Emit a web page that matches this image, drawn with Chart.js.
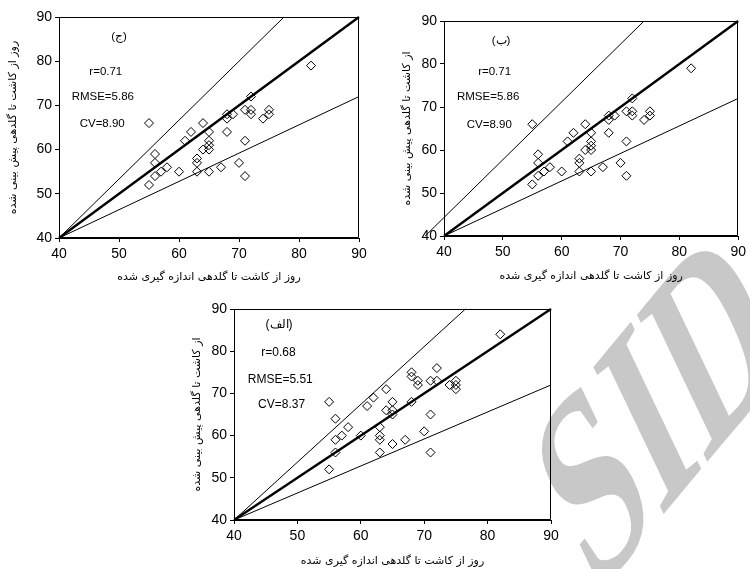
<!DOCTYPE html>
<html><head><meta charset="utf-8">
<script src="https://cdn.jsdelivr.net/npm/chart.js@4.4.0/dist/chart.umd.min.js"></script>
<style>
html,body{margin:0;padding:0;background:#fff;}
body{width:750px;height:569px;position:relative;overflow:hidden;}
canvas{position:absolute;z-index:1;}
#wm{position:absolute;left:656px;top:404px;transform:translate(-50%,-50%) matrix(0.486,-0.585,0.447,0.936,0,0);
  font-family:"Liberation Serif","DejaVu Serif",serif;font-weight:bold;font-size:240px;line-height:1;
  color:#c8c8c8;white-space:nowrap;z-index:0;}
</style></head>
<body>
<div id="wm">SID</div>
<canvas id="cC" width="375" height="295" style="left:0;top:0"></canvas>
<canvas id="cB" width="375" height="295" style="left:375px;top:0"></canvas>
<canvas id="cA" width="400" height="274" style="left:180px;top:295px"></canvas>
<script>
// ---- data (days) ----
// panel (ج)
const obsC  = [55,56,56,55,56,57,58,60,61,62,63,63,63,64,64,65,65,65,65,65,67,68,68,68,69,70,71,71,71,72,72,72,74,75,75,82];
const predC = [66,59,57,52,54,55,56,55,62,64,58,57,55,66,60,64,62,61,60,55,56,68,67,64,68,57,69,62,54,72,69,68,67,68,69,79];
// panel (ب)
const obsB  = [55,56,56,55,56,57,58,60,61,62,63,63,63,64,64,65,65,65,65,65,67,68,68,68,69,70,71,71,71,72,72,72,74,75,75,82];
const predB = [66,59,57,52,54,55,56,55,62,64,58,57,55,66,60,64,62,61,60,55,56,68,67,64,68,57,69,62,54,72,69,68,67,68,69,79];
// panel (الف)
const obsA  = [55,56,56,57,58,56,55,60,61,62,64,63,63,63,63,64,65,65,65,65,67,68,68,68,69,69,70,71,71,71,72,72,74,75,75,75,82];
const predA = [68,64,59,60,62,56,52,60,67,69,71,62,60,59,56,66,68,66,65,58,59,75,74,68,73,72,61,73,65,56,76,73,72,73,72,71,84];

// reference lines [x0,x1] / [y0,y1]
const lineOneX = [40, 90], lineOneY = [40, 90];
const lowX = [40, 90], lowY = [40, 72];
const upCX = [40, 77.5], upCY = [40, 90];
const upBX = [36.8, 74], upBY = [40, 90];
const upAX = [40, 76.5], upAY = [40, 90];

const axisMin = 40, axisMax = 90, axisStep = 10;

// statistics text
const labelsC = ['(ج)', 'r=0.71', 'RMSE=5.86', 'CV=8.90'];
const labelsB = ['(ب)', 'r=0.71', 'RMSE=5.86', 'CV=8.90'];
const labelsA = ['(الف)', 'r=0.68', 'RMSE=5.51', 'CV=8.37'];

const xTitle = 'روز از کاشت تا گلدهی اندازه گیری شده';
const yTitleC = 'روز از کاشت تا گلدهی پیش بینی شده';
const yTitleB = 'از کاشت تا گلدهی پیش بینی شده';
const yTitleA = 'از کاشت تا گلدهی پیش بینی شده';

// ---- plugins ----
const framePlugin = {
  id: 'frame',
  afterDatasetsDraw(chart) {
    const {ctx, chartArea: a} = chart;
    ctx.save();
    ctx.strokeStyle = '#000'; ctx.lineWidth = 1;
    ctx.beginPath();
    const l = Math.round(a.left) + 0.5, r = Math.round(a.right) - 0.5, t = Math.round(a.top) + 0.5, b = Math.round(a.bottom) - 0.5;
    ctx.moveTo(l, b); ctx.lineTo(l, t); ctx.lineTo(r, t); ctx.lineTo(r, b); ctx.lineTo(l, b);
    ctx.stroke();
    ctx.restore();
  }
};
const notesPlugin = {
  id: 'notes',
  afterDraw(chart, args, opts) {
    const {ctx} = chart;
    const xs = chart.scales.x, ys = chart.scales.y;
    ctx.save();
    ctx.fillStyle = '#000';
    ctx.textAlign = 'center'; ctx.textBaseline = 'middle';
    (opts.items || []).forEach(it => {
      ctx.font = (it.size || opts.size) + 'px ' + (it.family || opts.family);
      ctx.fillText(it.text, xs.getPixelForValue(it.x), ys.getPixelForValue(it.y));
    });
    ctx.restore();
  }
};

function pts(xs, ys) { return xs.map((v, i) => ({x: v, y: ys[i]})); }

function makeChart(id, obs, pred, upX, upY, notes, yTitle, L) {
  const tickFont = {family: '"Liberation Sans", Arial, sans-serif', size: L.tick};
  const titleFont = {family: '"DejaVu Sans", sans-serif', size: L.title};
  new Chart(document.getElementById(id), {
    type: 'scatter',
    data: {
      datasets: [
        {data: pts(obs, pred), pointStyle: 'rectRot', pointRadius: 4.5, borderColor: '#000', backgroundColor: 'rgba(255,255,255,0)', borderWidth: 1, showLine: false},
        {data: pts(lineOneX, lineOneY), showLine: true, borderColor: '#000', borderWidth: 2.4, pointRadius: 0, clip: false},
        {data: pts(upX, upY), showLine: true, borderColor: '#000', borderWidth: 1, pointRadius: 0, clip: false},
        {data: pts(lowX, lowY), showLine: true, borderColor: '#000', borderWidth: 1, pointRadius: 0, clip: false}
      ]
    },
    options: {
      responsive: false, animation: false,
      layout: {padding: L.pad},
      plugins: {
        legend: {display: false}, tooltip: {enabled: false},
        notes: {items: notes, size: L.note, family: '"Liberation Sans", Arial, sans-serif'}
      },
      scales: {
        x: {
          type: 'linear', min: axisMin, max: axisMax,
          ticks: {stepSize: axisStep, color: '#000', font: tickFont, padding: 4, maxRotation: 0},
          grid: {display: true, drawOnChartArea: false, drawTicks: true, tickLength: 4, color: '#000'},
          border: {display: true, color: '#000', width: 1},
          title: {display: true, text: xTitle, color: '#000', font: titleFont, padding: {top: 0, bottom: L.xtp}},
          afterFit: s => { s.height = L.xh; }
        },
        y: {
          type: 'linear', min: axisMin, max: axisMax,
          ticks: {stepSize: axisStep, color: '#000', font: tickFont, padding: 3},
          grid: {display: true, drawOnChartArea: false, drawTicks: true, tickLength: 4, color: '#000'},
          border: {display: true, color: '#000', width: 1},
          title: {display: true, text: yTitle, color: '#000', font: titleFont, padding: {top: L.ytp, bottom: 0}},
          afterFit: s => { s.width = L.yw; }
        }
      }
    },
    plugins: [framePlugin, notesPlugin]
  });
}

const notePos = {
  C: [[50, 85.5], [47.8, 77.7], [47.3, 72], [47.2, 65.9]],
  B: [[49.7, 85.4], [48.6, 78.2], [47.5, 72.4], [47.7, 65.8]],
  A: [[47.1, 86.2], [47.0, 79.6], [47.3, 73.2], [47.5, 67.3]]
};
function notesFor(labels, pos) { return labels.map((t, i) => ({text: t, x: pos[i][0], y: pos[i][1]})); }

makeChart('cC', obsC, predC, upCX, upCY, notesFor(labelsC, notePos.C), yTitleC,
  {pad: {left: 0, right: 16, top: 17, bottom: 0}, yw: 59, xh: 57, xtp: 11, ytp: 7, tick: 14, title: 11, note: 11.5});
makeChart('cB', obsB, predB, upBX, upBY, notesFor(labelsB, notePos.B), yTitleB,
  {pad: {left: 0, right: 10, top: 21, bottom: 0}, yw: 69, xh: 59, xtp: 12, ytp: 26, tick: 14, title: 11, note: 11.5});
makeChart('cA', obsA, predA, upAX, upAY, notesFor(labelsA, notePos.A), yTitleA,
  {pad: {left: 0, right: 29, top: 14, bottom: 0}, yw: 54, xh: 49, xtp: 1, ytp: 11, tick: 14, title: 11, note: 12});
</script>
</body></html>
